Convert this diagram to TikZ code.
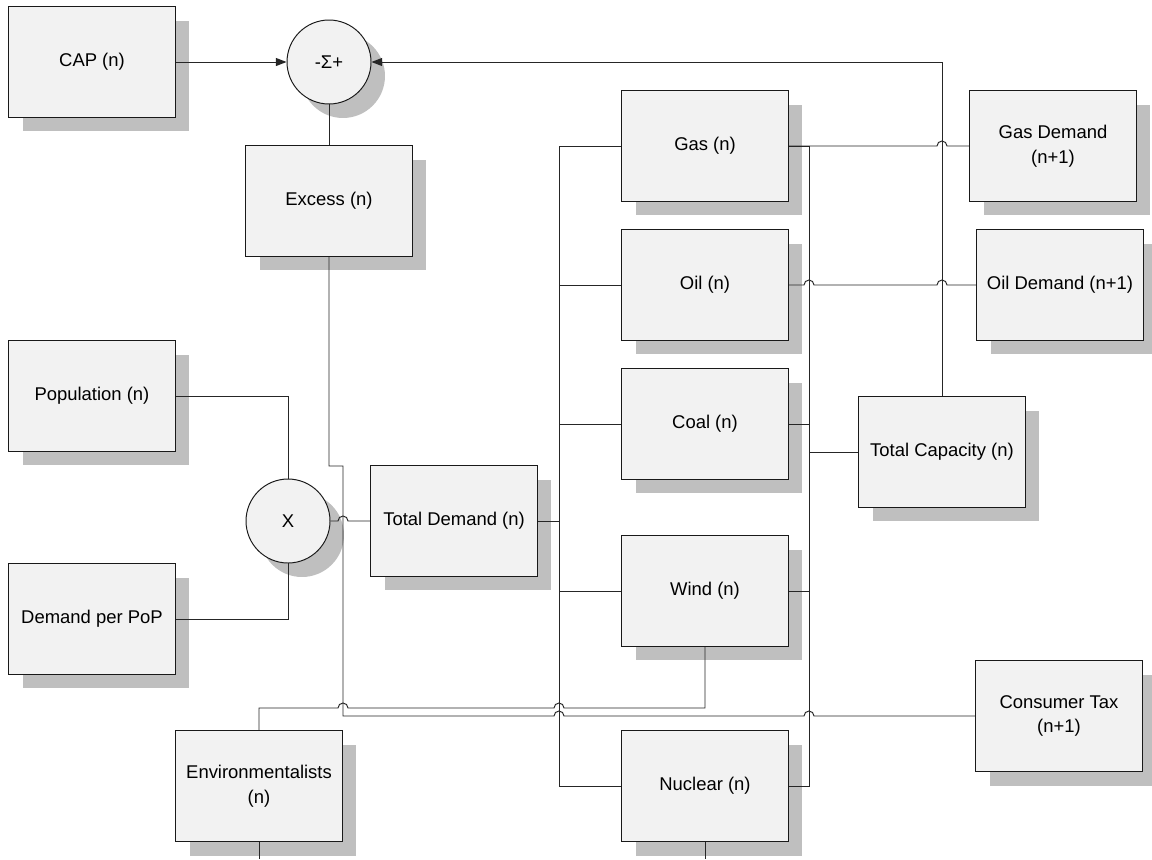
\documentclass[tikz,border=0pt]{standalone}
\usepackage{fontspec}
\setmainfont{Liberation Sans}
\usepackage{tikz}
\usetikzlibrary{shadows,arrows.meta}

\begin{document}
\begin{tikzpicture}[x=0.02cm, y=-0.02cm, line width=0.55pt,
  >={Triangle[length=6pt,width=4.5pt]},
  block/.style={rectangle, draw=black!90, fill=black!5, minimum width=3.34cm, minimum height=2.22cm, align=center,
    font=\fontsize{10.5}{14}\selectfont,
    drop shadow={shadow xshift=0.28cm, shadow yshift=-0.28cm, fill=black!25, opacity=1}},
  op/.style={circle, draw=black!90, fill=black!5, minimum size=1.68cm, inner sep=0pt,
    font=\fontsize{10.5}{14}\selectfont,
    drop shadow={shadow xshift=0.28cm, shadow yshift=-0.28cm, fill=black!25, opacity=1}},
  link/.style={draw=black!85},
  hop/.style={insert path={arc[start angle=180, end angle=0, radius=0.1cm]}}]
\useasboundingbox (0,0) rectangle (1152,859);

\node [block] (cap) at (92,62) {CAP (n)};
\node [op] (sum) at (329,62) {-Σ+};
\node [block] (excess) at (329,201) {Excess (n)};
\node [block] (pop) at (92,396) {Population (n)};
\node [block] (dpp) at (92,619) {Demand per PoP};
\node [op] (mult) at (288,521) {X};
\node [block] (tdem) at (454,521) {Total Demand (n)};
\node [block] (gas) at (705,146) {Gas (n)};
\node [block] (oil) at (705,285) {Oil (n)};
\node [block] (coal) at (705,424) {Coal (n)};
\node [block] (wind) at (705,591) {Wind (n)};
\node [block] (nuc) at (705,786) {Nuclear (n)};
\node [block] (tcap) at (942,452) {Total Capacity (n)};
\node [block] (gasdem) at (1053,146) {Gas Demand\\(n+1)};
\node [block] (oildem) at (1060,285) {Oil Demand (n+1)};
\node [block] (tax) at (1059,716) {Consumer Tax\\(n+1)};
\node [block] (env) at (259,786) {Environmentalists\\(n)};

\coordinate (lbus) at (559,146);
\coordinate (rbus) at (809,146);
\coordinate (envout) at (259,859);
\coordinate (nucout) at (705,859);

\draw[link, ->] (cap) -- (sum);
\draw[link, ->] (tcap.north) |- (sum.east);
\draw[link] (sum) -- (excess);
\draw[link] (excess.south) -- (329,466) -| (343,716) -- (554,716) [hop] -- (804,716) [hop] -- (tax.west);
\draw[link] (pop.east) -| (mult.north);
\draw[link] (dpp.east) -| (mult.south);
\draw[link] (mult.east) -- (338,521) [hop] -- (tdem.west);
\draw[link] (gas.west) -- (lbus) |- (nuc.west);
\foreach \n in {oil,coal,wind} \draw[link] (\n.west) -- (\n.west -| lbus);
\draw[link] (tdem.east) -- (tdem.east -| lbus);
\draw[link] (gas.east) -- (rbus) |- (nuc.east);
\foreach \n in {coal,wind} \draw[link] (\n.east) -- (\n.east -| rbus);
\draw[link] (tcap.west) -- (tcap.west -| rbus);
\draw[link] (gas.east) -- (937,146) [hop] -- (gasdem.west);
\draw[link] (oil.east) -- (804,285) [hop] -- (937,285) [hop] -- (oildem.west);
\draw[link] (env.north) |- (338,708) [hop] -- (554,708) [hop] -| (wind.south);
\draw[link] (env.south) -- (envout);
\draw[link] (nuc.south) -- (nucout);
\end{tikzpicture}
\end{document}
